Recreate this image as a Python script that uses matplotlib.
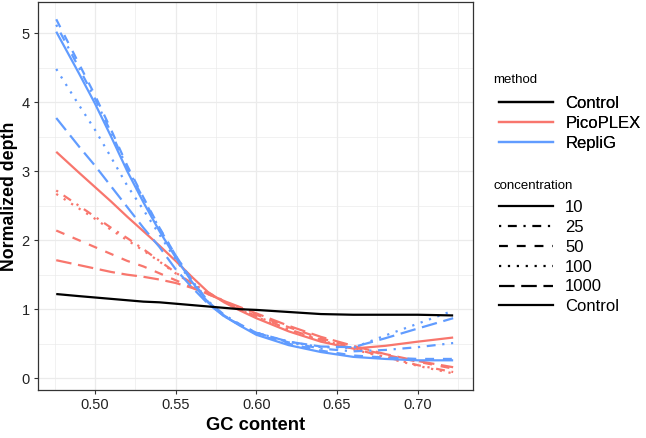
import numpy as np
import matplotlib
matplotlib.use('Agg')
import matplotlib.pyplot as plt
from matplotlib.lines import Line2D

plt.rcParams['font.family'] = ['Liberation Sans', 'DejaVu Sans']

gc = [0.476, 0.49, 0.50, 0.51, 0.52, 0.53, 0.54, 0.55, 0.56, 0.57,
      0.58, 0.59, 0.60, 0.62, 0.64, 0.66, 0.68, 0.70, 0.722]

# RepliG
repli_10 = [5.02, 4.42, 3.98, 3.50, 3.00, 2.55, 2.13, 1.75, 1.40, 1.10,
            0.90, 0.76, 0.63, 0.48, 0.38, 0.31, 0.28, 0.26, 0.26]
repli_25 = [5.12, 4.50, 4.05, 3.56, 3.05, 2.60, 2.17, 1.78, 1.42, 1.12,
            0.92, 0.78, 0.66, 0.52, 0.43, 0.39, 0.41, 0.45, 0.51]
repli_50 = [5.20, 4.56, 4.10, 3.60, 3.08, 2.62, 2.18, 1.78, 1.42, 1.11,
            0.91, 0.77, 0.64, 0.50, 0.40, 0.33, 0.30, 0.28, 0.28]
repli_100 = [4.48, 3.96, 3.60, 3.20, 2.79, 2.44, 2.08, 1.72, 1.39, 1.10,
             0.90, 0.77, 0.66, 0.53, 0.45, 0.44, 0.62, 0.79, 0.98]
repli_1000 = [3.77, 3.36, 3.08, 2.78, 2.48, 2.18, 1.90, 1.58, 1.32, 1.08,
              0.90, 0.77, 0.66, 0.53, 0.46, 0.45, 0.58, 0.72, 0.87]

# PicoPLEX
pico_10 = [3.28, 2.98, 2.77, 2.56, 2.34, 2.13, 1.92, 1.70, 1.47, 1.25,
           1.10, 0.98, 0.87, 0.68, 0.53, 0.43, 0.47, 0.53, 0.59]
pico_25 = [2.72, 2.50, 2.34, 2.18, 2.03, 1.87, 1.70, 1.53, 1.38, 1.24,
           1.12, 1.00, 0.90, 0.71, 0.56, 0.43, 0.31, 0.19, 0.09]
pico_50 = [2.14, 2.00, 1.90, 1.80, 1.70, 1.62, 1.52, 1.42, 1.32, 1.22,
           1.12, 1.02, 0.92, 0.74, 0.58, 0.45, 0.34, 0.24, 0.14]
pico_100 = [2.67, 2.46, 2.31, 2.15, 2.00, 1.85, 1.69, 1.52, 1.37, 1.23,
            1.11, 0.99, 0.89, 0.70, 0.55, 0.42, 0.30, 0.18, 0.07]
pico_1000 = [1.71, 1.64, 1.59, 1.54, 1.50, 1.47, 1.43, 1.38, 1.31, 1.22,
             1.12, 1.03, 0.94, 0.76, 0.60, 0.47, 0.35, 0.25, 0.16]

control = [1.22, 1.19, 1.17, 1.15, 1.13, 1.11, 1.10, 1.08, 1.06, 1.04,
           1.02, 1.00, 0.99, 0.96, 0.93, 0.92, 0.92, 0.92, 0.91]

methods = ['Control', 'PicoPLEX', 'RepliG']
concentrations = ['10', '25', '50', '100', '1000', 'Control']

colors = {'Control': 'black', 'PicoPLEX': '#F8766D', 'RepliG': '#619CFF'}
styles = {'10': '-', '25': (0, (1, 3, 4, 3)), '50': (0, (4, 4)),
          '100': (0, (1, 3)), '1000': (0, (7, 3)), 'Control': '-'}

series = [
    ('PicoPLEX', '10', pico_10), ('PicoPLEX', '25', pico_25),
    ('PicoPLEX', '50', pico_50), ('PicoPLEX', '100', pico_100),
    ('PicoPLEX', '1000', pico_1000),
    ('RepliG', '10', repli_10), ('RepliG', '25', repli_25),
    ('RepliG', '50', repli_50), ('RepliG', '100', repli_100),
    ('RepliG', '1000', repli_1000),
    ('Control', 'Control', control),
]

W, H = 646, 438
lw = 1.6
fig = plt.figure(figsize=(W / 100, H / 100), dpi=100)
ax = fig.add_axes([38 / W, 48 / H, 435 / W, 388 / H])

for m, c, vals in series:
    ax.plot(gc, vals, color=colors[m], linestyle=styles[c], lw=lw,
            dash_capstyle='butt', solid_capstyle='butt')

ax.set_xlim(0.4647, 0.7343)
ax.set_ylim(-0.17, 5.45)
ax.set_xticks([0.50, 0.55, 0.60, 0.65, 0.70])
ax.set_xticklabels(['0.50', '0.55', '0.60', '0.65', '0.70'])
ax.set_xticks([0.475, 0.525, 0.575, 0.625, 0.675, 0.725], minor=True)
ax.set_yticks([0, 1, 2, 3, 4, 5])
ax.set_yticks([0.5, 1.5, 2.5, 3.5, 4.5], minor=True)
ax.grid(which='major', color='#EBEBEB', lw=0.9)
ax.grid(which='minor', color='#EBEBEB', lw=0.5)
ax.set_axisbelow(True)
for s in ax.spines.values():
    s.set_color('#333333')
    s.set_linewidth(0.9)
ax.tick_params(which='major', length=3, color='#333333', labelsize=10.5,
               labelcolor='#222222', pad=3)
ax.tick_params(which='minor', length=0)
ax.set_xlabel('GC content', fontsize=13.2, fontweight='bold', labelpad=3)
ax.set_ylabel('Normalized depth', fontsize=12.8, fontweight='bold')
ax.yaxis.set_label_coords(-20 / 435, 0.5)

# legends: titles as text, entries as title-less legends
fig.text(493 / W, 1 - 80 / H, 'method', fontsize=9.5, va='center', ha='left')
h1 = [Line2D([], [], color=colors[m], lw=lw) for m in methods]
leg1 = fig.legend(h1, methods, loc='upper left',
                  bbox_to_anchor=(499 / W, 1 - 96 / H), frameon=False,
                  fontsize=12, handlelength=3.25, handletextpad=0.72,
                  labelspacing=0.29, borderpad=0, borderaxespad=0)

fig.text(493 / W, 1 - 186 / H, 'concentration', fontsize=9.5, va='center',
         ha='left')
h2 = [Line2D([], [], color='black', lw=lw, linestyle=styles[c],
             dash_capstyle='butt') for c in concentrations]
leg2 = fig.legend(h2, concentrations, loc='upper left',
                  bbox_to_anchor=(499 / W, 1 - 200 / H), frameon=False,
                  fontsize=12, handlelength=3.25, handletextpad=0.72,
                  labelspacing=0.29, borderpad=0, borderaxespad=0)
fig.add_artist(leg1)

fig.savefig('out.png', dpi=100)
